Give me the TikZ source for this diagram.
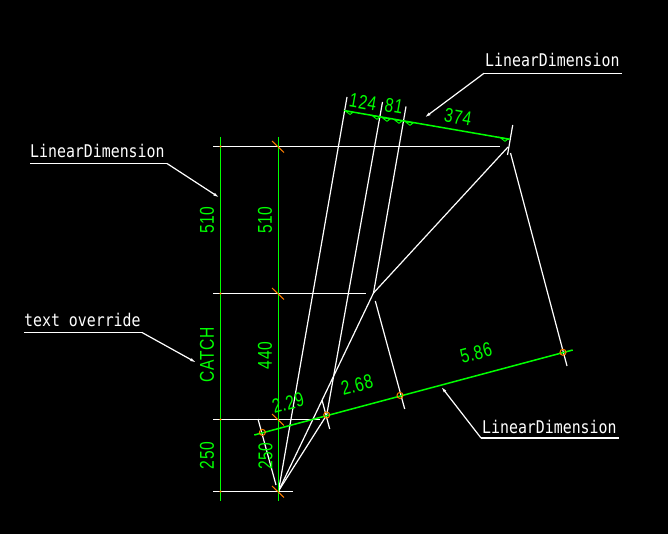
\documentclass[tikz,border=0pt]{standalone}
\usepackage{fontspec}
\usetikzlibrary{arrows.meta}
\newfontfamily\cadfont[FakeStretch=0.85]{DejaVu Sans Mono}
\newfontfamily\dimfont[FakeStretch=0.78,LetterSpace=3]{Liberation Sans}
\definecolor{dimgreen}{RGB}{0,255,0}
\definecolor{markorange}{RGB}{255,127,0}
\tikzset{
  wire/.style={white,line width=1.2pt},
  dimline/.style={dimgreen,line width=1.5pt},
  leader/.style={white,line width=1.2pt,-{Latex[length=7pt,width=3pt]}},
  markline/.style={markorange,line width=1pt},
  notetext/.style={white,font=\cadfont\fontsize{17.5}{17.5}\selectfont,inner sep=0pt},
  dimtext/.style={dimgreen,font=\dimfont\fontsize{20}{20}\selectfont,inner sep=0pt}
}
\begin{document}
\begin{tikzpicture}[x=1pt,y=-1pt]
        \fill[black] (0,0) rectangle (668,534);
        %points
        \coordinate (apex) at (278.5,491);
        \coordinate (knee) at (373.5,293);
        \coordinate (tip) at (508,147);
        \coordinate (foot) at (326.7,415);
        \coordinate (topa) at (347,97);
        \coordinate (topb) at (382.5,102);
        \coordinate (topc) at (406,106.5);
        
        %levels
        \draw[wire] (213,146.5) -- (500,146.5);
        \draw[wire] (213,293.5) -- (366,293.5);
        \draw[wire] (213,419.5) -- (320,419.5);
        \draw[wire] (213,491.5) -- (293,491.5);
        
        %profile
        \draw[wire] (apex) -- (knee) -- (tip);
        \draw[wire] (apex) -- (topa);
        \draw[wire] (apex) -- (foot) -- (topb);
        \draw[wire] (knee) -- (topc);
        \draw[wire] (512.7,125) -- (507.5,155);
        \draw[wire] (510.5,153) -- (567,366);
        \draw[wire] (375.3,301) -- (404.7,409);
        \draw[wire] (322,400) -- (329.7,429);
        \draw[wire] (258,419) -- (276,485);
        
        %vertical dimensions
        \draw[dimline] (220.5,137) -- (220.5,500.5);
        \draw[dimline] (278.5,137) -- (278.5,500.5);
        \node[dimtext,rotate=90] (lefttop) at (207,220) {510};
        \node[dimtext,rotate=90] (midtop) at (265,220) {510};
        \node[dimtext,rotate=90] (catch) at (207,355) {CATCH};
        \node[dimtext,rotate=90] (midmid) at (265,355.5) {440};
        \node[dimtext,rotate=90] (leftlow) at (207,455.5) {250};
        \node[dimtext,rotate=90] (midlow) at (265.5,456) {250};
        
        %sloped dimensions
        \draw[dimline] (254.3,435) -- (572.7,350);
        \node[dimtext,rotate=15] (slopea) at (288,403) {2.29};
        \node[dimtext,rotate=15] (slopeb) at (357,385) {2.68};
        \node[dimtext,rotate=15] (slopec) at (476,353) {5.86};
        
        \draw[dimline] (345,110.7) -- (510,139.3);
        \foreach \x/\y in {345/110.7,372/115.5,382/117.5,394/119.5,405/121.5,500/137.5}
            \draw[dimgreen,line width=.9pt] (\x,\y) -- +(8,1.6) -- +(5,3.8) -- cycle;
        \node[dimtext,rotate=-10] (upa) at (363,102) {124};
        \node[dimtext,rotate=-10] (upb) at (394,106) {81};
        \node[dimtext,rotate=-10] (upc) at (458,117) {374};
        
        %marks
        \foreach \y in {146.5,293.5,419.5,491.5} {
            \draw[markline] (272,\y-5.5) -- (284,\y+6);
            \fill[markorange] (220.5,\y) circle (1.2pt);
        }
        \foreach \x/\y in {262.4/432.4,326.7/415,400/395.4,563/352.3}
            \draw[markline] (\x,\y) circle (3pt);
        
        %notes
        \node[notetext,anchor=base west] (noteup) at (485,67) {LinearDimension};
        \coordinate (noteupr) at (621.5,73.3);
        \coordinate (noteupl) at (484,73.3);
        \coordinate (noteupe) at (424,118);
        \draw[wire] (noteupr) -- (noteupl);
        \draw[leader] (noteupl) -- (noteupe);
        
        \node[notetext,anchor=base west] (noteleft) at (30,158) {LinearDimension};
        \coordinate (notelefta) at (30,163.5);
        \coordinate (noteleftb) at (167,163.5);
        \coordinate (notelefte) at (220,198);
        \draw[wire] (notelefta) -- (noteleftb);
        \draw[leader] (noteleftb) -- (notelefte);
        
        \node[notetext,anchor=base west] (noteover) at (24,326) {text override};
        \coordinate (noteovera) at (24,332.5);
        \coordinate (noteoverb) at (142,332.5);
        \coordinate (noteovere) at (197,363);
        \draw[wire] (noteovera) -- (noteoverb);
        \draw[leader] (noteoverb) -- (noteovere);
        
        \node[notetext,anchor=base west] (notelow) at (482,433) {LinearDimension};
        \coordinate (notelowr) at (619,438);
        \coordinate (notelowl) at (481,438);
        \coordinate (notelowe) at (440.7,386);
        \draw[wire] (notelowr) -- (notelowl);
        \draw[leader] (notelowl) -- (notelowe);
\end{tikzpicture}
\end{document}
